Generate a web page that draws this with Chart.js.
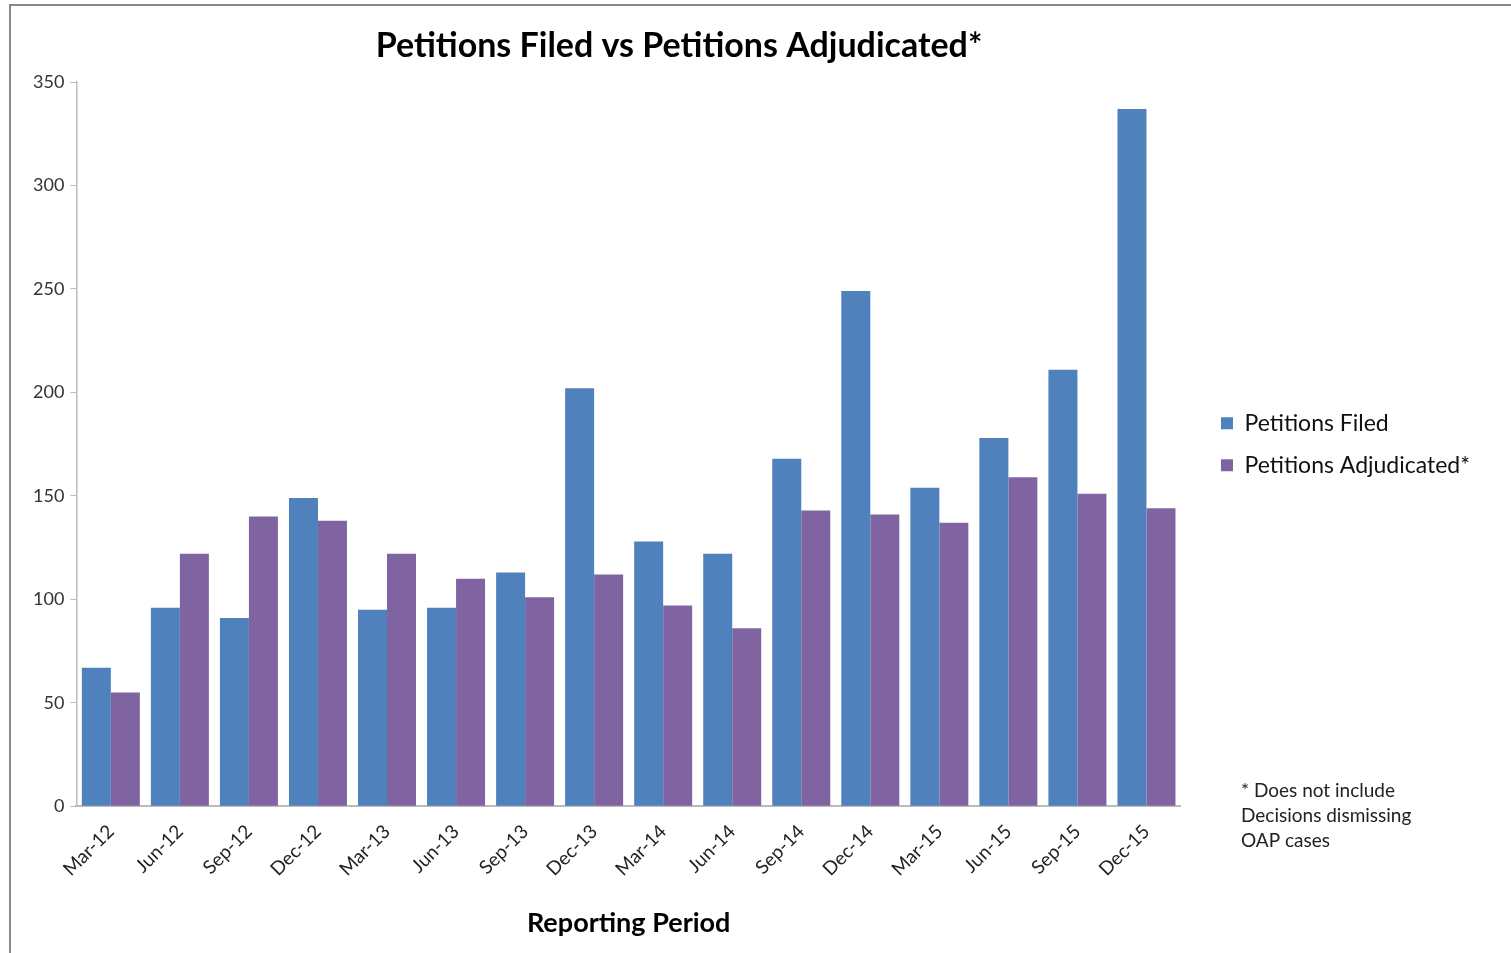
<!DOCTYPE html>
<html>
<head>
<meta charset="utf-8">
<script src="https://cdn.jsdelivr.net/npm/chart.js@4"></script>
<style>
    body { margin: 0; background: #fff; overflow: hidden; }
    #frame {
        position: absolute;
        left: 9px;
        top: 4px;
        width: 1520px;
        height: 970px;
        border: 2px solid #888;
        box-sizing: border-box;
    }
    #wrap {
        position: absolute;
        left: 11px;
        top: 6px;
        width: 1500px;
        height: 947px;
    }
</style>
</head>
<body>
<div id="frame"></div>
<div id="wrap"><canvas id="petChart"></canvas></div>
<script>
const periods = ['Mar-12', 'Jun-12', 'Sep-12', 'Dec-12', 'Mar-13', 'Jun-13', 'Sep-13', 'Dec-13',
                 'Mar-14', 'Jun-14', 'Sep-14', 'Dec-14', 'Mar-15', 'Jun-15', 'Sep-15', 'Dec-15'];
const filed = [67, 96, 91, 149, 95, 96, 113, 202, 128, 122, 168, 249, 154, 178, 211, 337];
const adjudicated = [55, 122, 140, 138, 122, 110, 101, 112, 97, 86, 143, 141, 137, 159, 151, 144];
const yTicks = [0, 50, 100, 150, 200, 250, 300, 350];
const chartTitle = 'Petitions Filed vs Petitions Adjudicated*';
const footnote = ['* Does not include', 'Decisions dismissing', 'OAP cases'];

const fontFamily = 'Lato, "Open Sans", sans-serif';

// Title sits a little right of centre in the original, so it is drawn by hand
const titlePlugin = {
    id: 'offsetTitle',
    afterDraw(chart) {
        const c = chart.ctx;
        c.save();
        c.font = 'bold 34px ' + fontFamily;
        c.fillStyle = '#000';
        c.textAlign = 'center';
        c.textBaseline = 'middle';
        c.fillText(chartTitle, 668, 40);
        c.restore();
    }
};

// Footnote to the right of the plot area, under the legend
const footnotePlugin = {
    id: 'footnote',
    afterDraw(chart) {
        const c = chart.ctx;
        const area = chart.chartArea;
        c.save();
        c.font = '19px ' + fontFamily;
        c.fillStyle = '#222';
        c.textBaseline = 'alphabetic';
        footnote.forEach((line, i) => {
            c.fillText(line, area.right + 60, area.bottom - 9 + i * 25);
        });
        c.restore();
    }
};

const ctx = document.getElementById('petChart').getContext('2d');
new Chart(ctx, {
    type: 'bar',
    data: {
        labels: periods,
        datasets: [
            {
                label: 'Petitions Filed',
                data: filed,
                backgroundColor: '#4F81BD',
                categoryPercentage: 0.84,
                barPercentage: 1.0
            },
            {
                label: 'Petitions Adjudicated*',
                data: adjudicated,
                backgroundColor: '#8064A2',
                categoryPercentage: 0.84,
                barPercentage: 1.0
            }
        ]
    },
    options: {
        responsive: true,
        maintainAspectRatio: false,
        animation: false,
        layout: {
            padding: { left: 16, right: 31, top: 76, bottom: 14 }
        },
        plugins: {
            title: { display: false },
            legend: {
                position: 'right',
                align: 'center',
                fullSize: false,
                maxWidth: 320,
                labels: {
                    color: '#111',
                    font: { family: fontFamily, size: 23 },
                    boxWidth: 12,
                    boxHeight: 12,
                    padding: 19
                }
            },
            tooltip: { enabled: false }
        },
        scales: {
            x: {
                grid: { display: false },
                border: { color: '#bbb', width: 2 },
                ticks: {
                    color: '#222',
                    font: { family: fontFamily, size: 19 },
                    maxRotation: 45,
                    minRotation: 45,
                    padding: 6
                },
                title: {
                    display: true,
                    text: 'Reporting Period',
                    color: '#000',
                    font: { family: fontFamily, size: 27, weight: 'bold' },
                    padding: { top: 20, bottom: 0 }
                }
            },
            y: {
                min: 0,
                max: 350,
                afterBuildTicks(axis) {
                    axis.ticks = yTicks.map(v => ({ value: v }));
                },
                grid: {
                    drawOnChartArea: false,
                    drawTicks: true,
                    tickLength: 6,
                    color: '#bbb'
                },
                border: { color: '#bbb', width: 1.5 },
                ticks: {
                    color: '#333',
                    font: { family: fontFamily, size: 18 },
                    padding: 6
                }
            },
            // empty spacer between the plot and the legend
            gap: {
                position: 'right',
                display: true,
                grid: { display: false },
                border: { display: false },
                ticks: { display: false },
                afterFit(scale) {
                    scale.width = 21;
                }
            }
        }
    },
    plugins: [titlePlugin, footnotePlugin]
});
</script>
</body>
</html>
